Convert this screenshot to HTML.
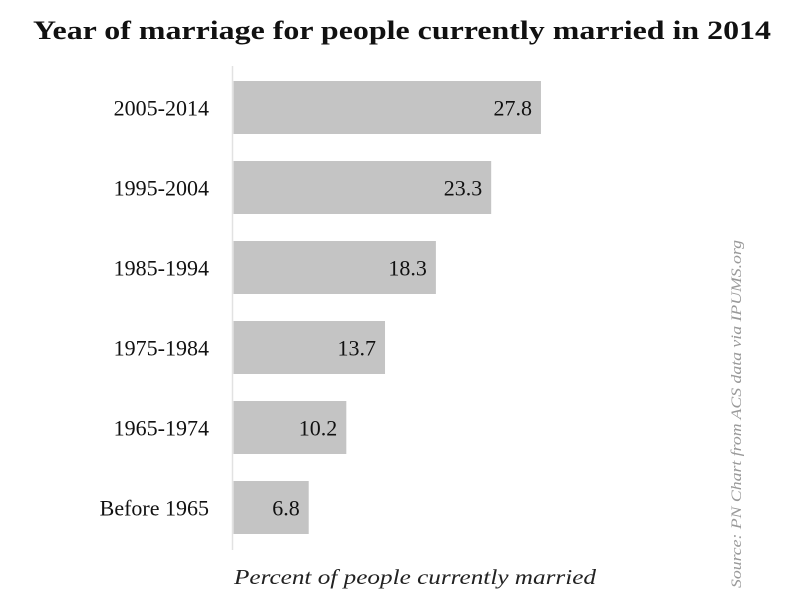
<!DOCTYPE html>
<html><head><meta charset="utf-8"><style>
body{margin:0;background:#fff;}
svg{display:block;font-family:"Liberation Serif",serif;}
</style></head><body>
<svg width="800" height="600">
<text x="402" y="39" text-anchor="middle" font-size="26" font-weight="bold" fill="#111" textLength="738" lengthAdjust="spacingAndGlyphs">Year of marriage for people currently married in 2014</text>
<line x1="232.5" y1="66" x2="232.5" y2="550" stroke="#e2e2e2" stroke-width="1.5"/>
<g id="bars"></g>
<text x="415" y="584" text-anchor="middle" font-size="21" font-style="italic" fill="#222" textLength="362" lengthAdjust="spacingAndGlyphs">Percent of people currently married</text>
<text transform="translate(741,414) rotate(-90)" text-anchor="middle" font-size="15" font-style="italic" fill="#999" textLength="348" lengthAdjust="spacingAndGlyphs">Source: PN Chart from ACS data via IPUMS.org</text>
</svg>
<script>
const categories=["2005-2014","1995-2004","1985-1994","1975-1984","1965-1974","Before 1965"];
const values=[27.8,23.3,18.3,13.7,10.2,6.8];
const x0=233.5,scale=11.06,yStart=81,step=80,barH=53;
function xPos(v){return x0+v*scale;}
function yPos(i){return yStart+i*step;}
const g=document.getElementById('bars');
const ns="http://www.w3.org/2000/svg";
categories.forEach((c,i)=>{
  const r=document.createElementNS(ns,'rect');
  
  
  r.setAttribute('x',x0);r.setAttribute('y',yPos(i));
  r.setAttribute('width',xPos(values[i])-x0);r.setAttribute('height',barH);
  r.setAttribute('fill','#c4c4c4');g.appendChild(r);
  const t=document.createElementNS(ns,'text');
  
  
  t.setAttribute('x',xPos(values[i])-9);t.setAttribute('y',yPos(i)+barH/2+8);
  t.setAttribute('text-anchor','end');t.setAttribute('font-size','22');t.setAttribute('fill','#111');
  t.textContent=values[i].toFixed(1);g.appendChild(t);
  const l=document.createElementNS(ns,'text');
  
  
  l.setAttribute('x',209);l.setAttribute('y',yPos(i)+barH/2+8);
  l.setAttribute('text-anchor','end');l.setAttribute('font-size','22');l.setAttribute('fill','#111');
  l.textContent=c;g.appendChild(l);
});
</script>
</body></html>
